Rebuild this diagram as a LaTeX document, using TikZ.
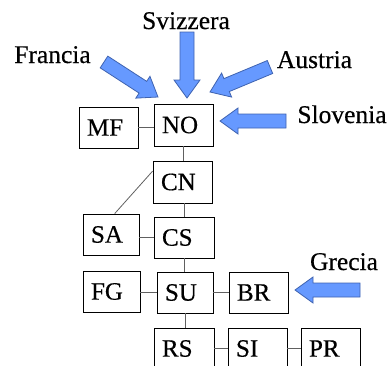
\documentclass[tikz,border=0pt]{standalone}
\usepackage{fontspec}
\setmainfont{Liberation Serif}
\newfontfamily\labelfont[FakeBold=0.4]{Liberation Serif}
\usetikzlibrary{calc}
\definecolor{arrowfill}{HTML}{6699FF}
\definecolor{arrowline}{HTML}{3F63B0}
\definecolor{linkgray}{HTML}{606060}
\tikzset{
  box/.style={draw=black, line width=0.8pt, minimum height=41pt,
    inner xsep=8pt, inner ysep=0pt, align=left, text width=#1,
    font=\labelfont\fontsize{25}{25}\selectfont},
  box/.default=43pt,
  link/.style={draw=linkgray, line width=0.8pt},
  country/.style={font=\labelfont\fontsize{25.5}{26}\selectfont, anchor=base, inner sep=0pt},
  blockarrow/.style={fill=arrowfill, draw=arrowline, line width=0.8pt, line join=miter},
}
% wide block arrow from a tail point to a tip point
\newcommand\wideArrow[2]{%
  \coordinate (hb) at ($(#2)!18pt!(#1)$);
  \draw[blockarrow] ($(#1)!7pt!90:(#2)$) -- ($(hb)!7pt!90:(#2)$)
    -- ($(hb)!13pt!90:(#2)$) -- (#2) -- ($(hb)!13pt!-90:(#2)$)
    -- ($(hb)!7pt!-90:(#2)$) -- ($(#1)!7pt!-90:(#2)$) -- cycle;
}
\begin{document}
\begin{tikzpicture}[x=1pt, y=-1pt]
  \useasboundingbox (0,0) rectangle (388,365);
  \clip (0,0) rectangle (388,365);

  % boxes
  \node[box, minimum height=42pt] (NO) at (183.5,125) {NO};
  \node[box] (MF) at (108.5,127.5) {MF};
  \node[box, minimum height=42pt] (CN) at (182.5,182) {CN};
  \node[box=40pt] (SA) at (111,234.5) {SA};
  \node[box=44pt] (CS) at (184,237.5) {CS};
  \node[box=41pt] (FG) at (111.5,291.5) {FG};
  \node[box=40pt] (SU) at (185,292.5) {SU};
  \node[box] (BR) at (258.5,292.5) {BR};
  \node[box=44pt] (RS) at (184,348.5) {RS};
  \node[box] (SI) at (257.5,348.5) {SI};
  \node[box] (PR) at (330.5,348.5) {PR};

  % connectors
  \draw[link] (MF.east) -- (MF.east -| NO.west);
  \draw[link] (NO.south) -- (NO.south |- CN.north);
  \draw[link] (SA.80) -- (CN.160);
  \draw[link] (CS.north |- CN.south) -- (CS.north);
  \draw[link] (CS.west) -- (CS.west -| SA.east);
  \draw[link] (CS.south) -- (CS.south |- SU.north);
  \draw[link] (SU.west) -- (SU.west -| FG.east);
  \draw[link] (SU.east) -- (SU.east -| BR.west);
  \draw[link] (SU.south) -- (SU.south |- RS.north);
  \draw[link] (RS.east) -- (RS.east -| SI.west);
  \draw[link] (SI.east) -- (SI.east -| PR.west);

  % neighbouring countries
  \node[country] (svizzera) at (186,29) {Svizzera};
  \node[country] (francia) at (52.5,63) {Francia};
  \node[country] (austria) at (314.5,68) {Austria};
  \node[country] (slovenia) at (342,123) {Slovenia};
  \node[country] (grecia) at (344,270) {Grecia};

  % arrow tails and tips
  \coordinate (svT) at (187,32);  \coordinate (svH) at (187,98);
  \coordinate (frT) at (104,62);  \coordinate (frH) at (158,97);
  \coordinate (auT) at (270,67);  \coordinate (auH) at (210,92);
  \coordinate (slT) at (286,121); \coordinate (slH) at (220,121);
  \coordinate (grT) at (360,290); \coordinate (grH) at (295,290);

  \wideArrow{svT}{svH}
  \wideArrow{frT}{frH}
  \wideArrow{auT}{auH}
  \wideArrow{slT}{slH}
  \wideArrow{grT}{grH}
\end{tikzpicture}
\end{document}
